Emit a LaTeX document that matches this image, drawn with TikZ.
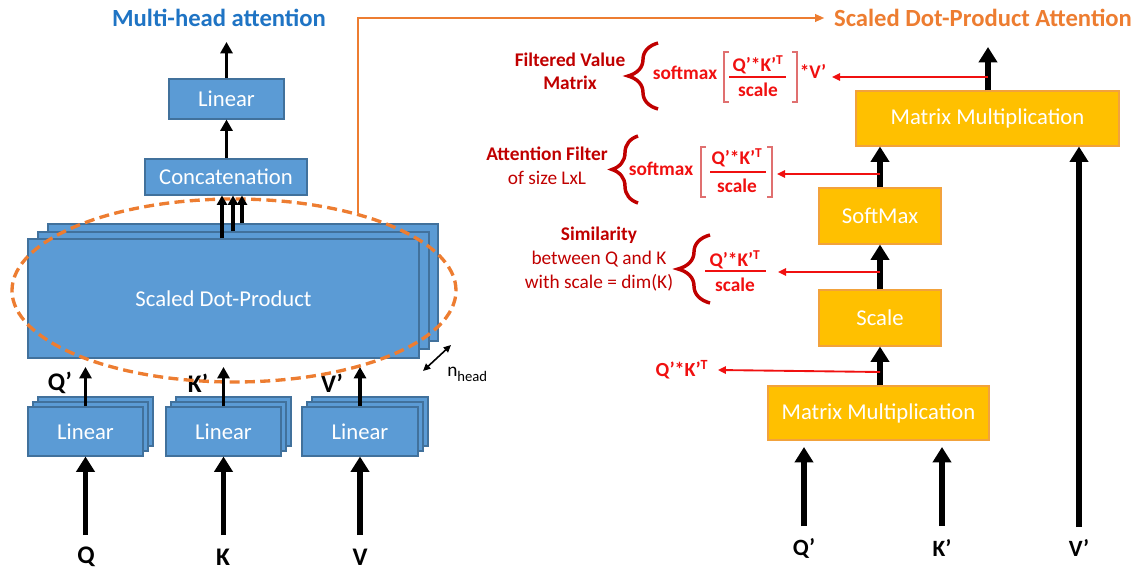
\documentclass[tikz,border=0pt]{standalone}
\usepackage{fontspec}
\setmainfont{Carlito}
\usetikzlibrary{arrows.meta,fit,shapes.geometric,decorations.pathreplacing}

\definecolor{boxblue}{HTML}{5B9BD5}
\definecolor{boxblueline}{HTML}{41719C}
\definecolor{boxgold}{HTML}{FFC000}
\definecolor{boxgoldline}{HTML}{F2A23C}
\definecolor{titleblue}{HTML}{1F74C4}
\definecolor{accent}{HTML}{ED7D31}
\definecolor{darkred}{HTML}{C00000}
\definecolor{brightred}{HTML}{F01010}
\definecolor{softred}{HTML}{E07070}

\tikzset{
  boxtext/.style={font=\fontsize{17}{20}\selectfont, text=white, inner sep=0pt},
  boxlab/.style={label={[boxtext]center:#1}},
  bluebox/.style={draw=boxblueline, fill=boxblue, line width=0.8pt, inner sep=0pt},
  goldbox/.style={draw=boxgoldline, fill=boxgold, line width=0.8pt, inner sep=0pt},
  titlemh/.style={font=\bfseries\fontsize{18.5}{22}\selectfont, text=titleblue, inner sep=3pt},
  titlesd/.style={font=\bfseries\fontsize{18.5}{22}\selectfont, text=accent, inner sep=3pt},
  inlab/.style={font=\bfseries\fontsize{19}{22}\selectfont, inner sep=1pt},
  inlabr/.style={font=\bfseries\fontsize{17.5}{21}\selectfont, inner sep=1pt},
  anno/.style={font=\fontsize{14.5}{18}\selectfont, text=darkred, align=center, inner sep=1pt},
  fx/.style={font=\bfseries\fontsize{14.5}{17}\selectfont, text=brightred, inner sep=1pt},
  arrA/.style={line width=2.6pt, -{Triangle[length=8.5pt,width=9pt]}},
  arrB/.style={line width=4pt, -{Triangle[length=11.5pt,width=13.5pt]}},
  arrC/.style={line width=2.3pt, -{Triangle[length=7pt,width=7.5pt]}},
  redarr/.style={draw=brightred, line width=1.4pt, -{Triangle[length=6pt,width=5.5pt]}},
  orangearr/.style={draw=accent, line width=1.8pt, -{Triangle[length=7pt,width=5.5pt]}},
  headsarr/.style={line width=1.2pt, {Triangle[length=5.5pt,width=5pt]}-{Triangle[length=5.5pt,width=5pt]}},
  bigbrace/.style={draw=darkred, line width=2.6pt, decorate, decoration={brace, amplitude=#1}},
  bracket/.style={draw=softred, line width=0.8pt},
  fracline/.style={draw=brightred, line width=0.9pt},
  dashring/.style={draw=accent, line width=2.5pt, dash pattern=on 7.5pt off 4pt, ellipse, inner sep=0pt}
}

\begin{document}
\begin{tikzpicture}[x=0.75pt,y=-0.75pt]
\useasboundingbox (0,0) rectangle (1143,570);

% ---------------- multi-head attention ----------------
\node[titlemh] (mhtitle) at (219,18) {Multi-head attention};
\node[bluebox, boxlab=Linear, fit={(169,79) (284,119)}] (lin) {};
\node[bluebox, boxlab=Concatenation, fit={(145,159) (307,195)}] (concat) {};

% stacked scaled dot-product heads
\node[bluebox, fit={(48,224) (438,341)}] (sdpC) {};
\node[bluebox, fit={(38,232) (429,349)}] (sdpB) {};
\node[bluebox, boxlab=Scaled Dot-Product, fit={(28,239) (419,358)}] (sdpA) {};

% stacked input projections
\foreach \nm/\xl/\xr in {q/28/143, k/166/281, v/302/418} {
  \node[bluebox, fit={(\xl+10,397) (\xr+10,446)}] (lin\nm3) {};
  \node[bluebox, fit={(\xl+5,402) (\xr+5,451)}] (lin\nm2) {};
  \node[bluebox, boxlab=Linear, fit={(\xl,407) (\xr,456)}] (lin\nm) {};
}

% inputs and projected inputs
\node[inlab] (inq) at (86,557) {Q};
\node[inlab] (ink) at (223,557) {K};
\node[inlab] (inv) at (360,557) {V};
\node[inlab] (pq) at (60,383) {Q’};
\node[inlab] (pk) at (198,383) {K’};
\node[inlab] (pv) at (332,383) {V’};

% dashed ring around the heads
\node[dashring, minimum width=333pt, minimum height=137.25pt] (ring) at (234,290.5) {};

% head count
\coordinate (nhA) at (423,371);
\coordinate (nhB) at (451,345);
\draw[headsarr] (nhA) -- (nhB);
\node[anchor=base west, inner sep=0pt, font=\fontsize{14.5}{17}\selectfont] (nhl) at (447,377)
  {n\raisebox{-3.5pt}{\fontsize{11}{13}\selectfont head}};

% connectors
\coordinate (mhout) at (226.5,42);
\draw[arrA] (lin.north) -- (mhout);
\draw[arrA] (lin.south |- concat.north) -- (lin.south);
\draw[arrC] (222,0 |- sdpA.north) -- (222,0 |- concat.south);
\draw[arrC] (233,0 |- sdpB.north) -- (233,0 |- concat.south);
\draw[arrC] (242,0 |- sdpC.north) -- (242,0 |- concat.south);
\foreach \nm in {q,k,v} {
  \draw[arrB] (lin\nm.south |- 0,535) -- (lin\nm.south);
  \draw[arrA] (lin\nm.north) -- (lin\nm.north |- 0,367);
}

% ---------------- scaled dot-product attention ----------------
\node[titlesd] (sdtitle) at (983,18) {Scaled Dot-Product Attention};
\node[goldbox, boxlab=Matrix Multiplication, fit={(856,91) (1119,146)}] (mmt) {};
\node[goldbox, boxlab=SoftMax, fit={(819,188) (941,244)}] (smax) {};
\node[goldbox, boxlab=Scale, fit={(819,290) (941,346)}] (scl) {};
\node[goldbox, boxlab=Matrix Multiplication, fit={(768,386) (989,440)}] (mmb) {};

% link to the detailed view
\draw[orangearr] (ring.32.7) |- ([xshift=-4pt]sdtitle.west);

\node[inlabr] (qp) at (804,548) {Q’};
\node[inlabr] (kp) at (942,548) {K’};
\node[inlabr] (vp) at (1079,548) {V’};

\coordinate (sdout) at (988,47);
\draw[arrB] (sdout |- mmt.north) -- (sdout);
\draw[arrB] (smax.north) -- (smax.north |- mmt.south);
\draw[arrB] (scl.north) -- (smax.south);
\draw[arrB] (scl.south |- mmb.north) -- (scl.south);
\draw[arrB] (qp.north |- 0,526) -- (qp.north |- 0,447);
\draw[arrB] (kp.north |- 0,526) -- (kp.north |- 0,447);
\draw[arrB] (vp.north |- 0,527) -- (vp.north |- mmt.south);

% ---------------- annotations ----------------
% filtered value matrix
\node[anno, font=\bfseries\fontsize{14.5}{17.5}\selectfont] (fvm) at (570,71.5) {Filtered Value\\Matrix};
\draw[bigbrace=22.5pt] (658,109) -- (658,43);
\node[fx] (sm1) at (685,73) {softmax};
\draw[bracket] (729,52) -- (724,52) -- (724,102) -- (729,102);
\draw[bracket] (792,52) -- (797,52) -- (797,102) -- (792,102);
\node[fx] (n1) at (758,65) {Q’*K’\textsuperscript{T}};
\draw[fracline] (729,77) -- (786,77);
\node[fx] (d1) at (758,90) {scale};
\node[fx] (vfac) at (813,71) {*V’};

% attention filter
\node[anno] (afl) at (547,166) {\textbf{Attention Filter}\\of size LxL};
\draw[bigbrace=19.5pt] (638,203) -- (638,136);
\node[fx] (sm2) at (661,169) {softmax};
\draw[bracket] (706,147) -- (701,147) -- (701,197) -- (706,197);
\draw[bracket] (767,147) -- (772,147) -- (772,197) -- (767,197);
\node[fx] (n2) at (737,158) {Q’*K’\textsuperscript{T}};
\draw[fracline] (710,172) -- (766,172);
\node[fx] (d2) at (737,186) {scale};

% similarity
\node[anno] (siml) at (599,259) {\textbf{Similarity}\\between Q and K\\with scale = dim(K)};
\draw[bigbrace=24pt] (710,303) -- (710,235);
\node[fx] (n3) at (735,260) {Q’*K’\textsuperscript{T}};
\draw[fracline] (705,271) -- (766,271);
\node[fx] (d3) at (735,285) {scale};

% raw product
\node[fx, font=\bfseries\fontsize{15}{18}\selectfont] (qk) at (682,370) {Q’*K’\textsuperscript{T}};

% taps from the data path
\coordinate (tap1) at (988,77);
\coordinate (tap2) at (880,174);
\coordinate (tap3) at (880,272);
\coordinate (tap4) at (880,372);
\draw[redarr] (tap1) -- (832,77);
\draw[redarr] (tap2) -- (777,174);
\draw[redarr] (tap3) -- (778,272);
\draw[redarr] (tap4) -- ([xshift=6pt]qk.east);
\end{tikzpicture}
\end{document}
